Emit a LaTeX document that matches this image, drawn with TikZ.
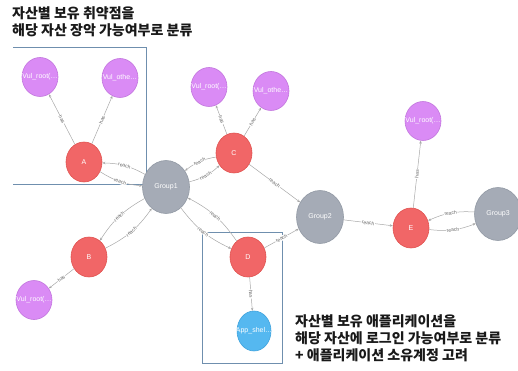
\documentclass[tikz,border=0pt]{standalone}
\usepackage{fontspec}
\setmainfont{Liberation Sans}
\newfontfamily\krfont{Noto Sans CJK KR}
\usetikzlibrary{shapes.geometric,arrows.meta}
\definecolor{nred}{HTML}{F16667}
\definecolor{nredb}{HTML}{E0524F}
\definecolor{ngray}{HTML}{A5ABB6}
\definecolor{ngrayb}{HTML}{9299A4}
\definecolor{npurple}{HTML}{DA8BF5}
\definecolor{npurpleb}{HTML}{C276DD}
\definecolor{nblue}{HTML}{55B8F0}
\definecolor{nblueb}{HTML}{3FA3DD}
\definecolor{edgec}{HTML}{A8A8A8}
\definecolor{boxc}{HTML}{6F8FAE}
\tikzset{
  nd/.style={ellipse, inner sep=0pt, line width=0.6pt,
    label={[text=white, font=\fontsize{7}{8}\selectfont, inner sep=0pt]center:#1}},
  asset/.style={nd={#1}, fill=nred, draw=nredb, minimum width=36pt, minimum height=40pt},
  grp/.style={nd={#1}, fill=ngray, draw=ngrayb, minimum width=47pt, minimum height=53pt},
  vul/.style={nd={#1}, fill=npurple, draw=npurpleb, minimum width=36pt, minimum height=39pt},
  app/.style={nd={#1}, fill=nblue, draw=nblueb, minimum width=34pt, minimum height=40pt},
  rel/.style={draw=edgec, line width=0.5pt, -{Stealth[length=3pt,width=2.5pt]}},
  lab/.style={midway, sloped, fill=white, inner sep=0.6pt, text=gray!80!black, font=\fontsize{5}{5}\selectfont},
  boxline/.style={draw=boxc, line width=0.8pt},
  kr/.style={font=\krfont\bfseries\fontsize{14}{17}\selectfont, align=left, anchor=north west, inner sep=0pt, text=black!90}
}
\begin{document}
\begin{tikzpicture}[x=1pt,y=-1pt]
\useasboundingbox (0,0) rectangle (518,371);
% boxes
\draw[boxline] (13,47) -- (146,47) -- (146,184) -- (13,184);
\draw[boxline] (202,232) rectangle (282,363);
% nodes
\node[vul={Vul\_root(\ldots}] (vA1) at (40,77) {};
\node[vul={Vul\_othe\ldots}] (vA2) at (120,78) {};
\node[asset=A] (A) at (84,162) {};
\node[grp=Group1] (G1) at (166,187) {};
\node[vul={Vul\_root(\ldots}] (vC1) at (209,87) {};
\node[vul={Vul\_othe\ldots}] (vC2) at (271,91) {};
\node[asset=C] (C) at (234,153) {};
\node[grp=Group2] (G2) at (320,217) {};
\node[asset=E] (E) at (411,228) {};
\node[vul={Vul\_root(\ldots}] (vE) at (423,121) {};
\node[grp=Group3] (G3) at (498,214) {};
\node[asset=B] (B) at (89,257) {};
\node[vul={Vul\_root(\ldots}] (vB) at (34,300) {};
\node[asset=D] (D) at (248,257) {};
\node[app={App\_shel\ldots}] (App) at (254,331) {};
% has edges
\draw[rel] (A) -- node[lab] {has} (vA1);
\draw[rel] (A) -- node[lab] {has} (vA2);
\draw[rel] (C) -- node[lab] {has} (vC1);
\draw[rel] (C) -- node[lab] {has} (vC2);
\draw[rel] (E) -- node[lab] {has} (vE);
\draw[rel] (B) -- node[lab] {has} (vB);
\draw[rel] (D) -- node[lab] {has} (App);
% reach pairs
\draw[rel] (G1) to[bend right=14] node[lab] {reach} (A);
\draw[rel] (A) to[bend right=14] node[lab] {reach} (G1);
\draw[rel] (G1) to[bend right=14] node[lab] {reach} (B);
\draw[rel] (B) to[bend right=14] node[lab] {reach} (G1);
\draw[rel] (C) to[bend right=14] node[lab] {reach} (G1);
\draw[rel] (G1) to[bend right=14] node[lab] {reach} (C);
\draw[rel] (D) to[bend right=14] node[lab] {reach} (G1);
\draw[rel] (G1) to[bend right=14] node[lab] {reach} (D);
\draw[rel] (G3) to[bend right=14] node[lab] {reach} (E);
\draw[rel] (E) to[bend right=14] node[lab] {reach} (G3);
% single reach
\draw[rel] (C) -- node[lab] {reach} (G2);
\draw[rel] (D) -- node[lab] {reach} (G2);
\draw[rel] (G2) -- node[lab] {reach} (E);
% texts
\node[kr] (t1) at (12,6) {자산별 보유 취약점을\\해당 자산 장악 가능여부로 분류};
\node[kr] (t2) at (295,314) {자산별 보유 애플리케이션을\\해당 자산에 로그인 가능여부로 분류\\+ 애플리케이션 소유계정 고려};
\end{tikzpicture}
\end{document}
